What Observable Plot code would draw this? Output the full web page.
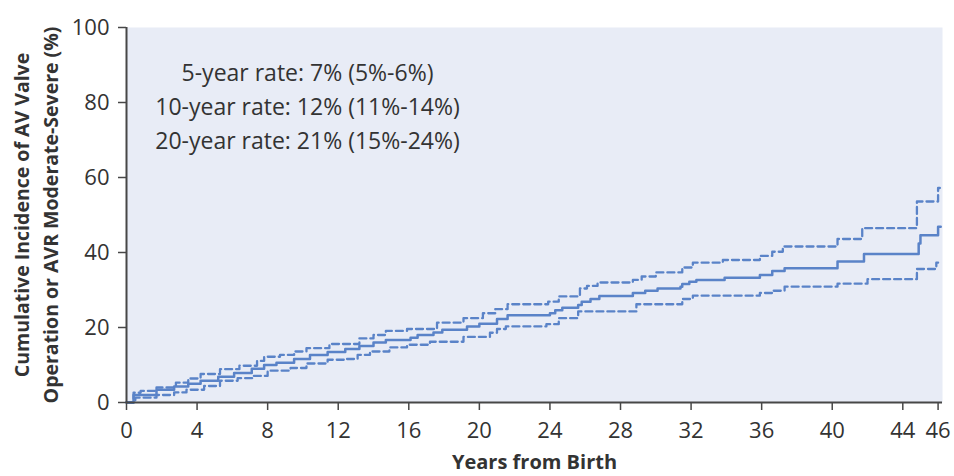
<!DOCTYPE html>
<html>
<head>
<meta charset="utf-8">
<script src="https://cdn.jsdelivr.net/npm/d3@7"></script>
<script src="https://cdn.jsdelivr.net/npm/@observablehq/plot@0.6"></script>
<style>
  html, body { margin: 0; padding: 0; background: #ffffff; }
  #chart { width: 954px; height: 476px; }
</style>
</head>
<body>
<div id="chart"></div>
<script>
// ---- Data ----
const estYears  = [0, 0.4, 1.7, 2.7, 3.5, 4.2, 5.2, 6.1, 7.1, 7.8, 8.5, 9.5, 10.4, 11.4, 12.4, 13.2, 14.0, 14.7, 16.1, 16.5, 17.4, 17.9, 19.3, 20.0, 21.0, 21.6, 24.0, 24.3, 24.7, 25.6, 25.8, 26.3, 26.8, 28.7, 29.4, 30.1, 31.4, 31.5, 31.9, 32.3, 33.9, 35.9, 36.6, 37.3, 40.3, 41.8, 44.9, 45.0, 46.0, 46.15];
const estValues = [0, 2.0, 3.4, 4.3, 5.0, 5.8, 6.9, 7.9, 9.0, 10.0, 10.6, 11.6, 12.7, 13.5, 14.3, 15.1, 16.0, 16.7, 17.3, 18.0, 18.7, 19.4, 20.3, 21.0, 22.3, 23.3, 23.8, 24.6, 25.3, 26.0, 26.9, 27.6, 28.4, 29.2, 29.8, 30.4, 30.9, 31.6, 32.2, 32.7, 33.3, 34.0, 35.1, 35.8, 37.6, 39.6, 42.4, 44.6, 46.9, 46.9];

const upperYears  = [0, 0.4, 0.8, 1.7, 2.8, 3.5, 4.2, 5.3, 6.4, 7.4, 7.8, 8.7, 9.5, 10.2, 11.5, 13.2, 14.0, 14.7, 15.9, 17.6, 19.1, 20.2, 20.9, 21.6, 23.9, 24.5, 25.7, 26.1, 26.7, 28.7, 29.2, 30.0, 31.5, 32.1, 33.8, 35.9, 36.6, 37.2, 40.3, 41.7, 44.8, 46.0, 46.1];
const upperValues = [0, 2.6, 3.1, 4.0, 5.3, 6.4, 7.6, 8.9, 9.8, 11.1, 12.2, 12.7, 13.6, 14.5, 15.6, 17.1, 18.0, 19.1, 19.6, 21.3, 22.5, 23.8, 24.9, 26.2, 26.9, 28.3, 30.4, 31.1, 32.0, 32.7, 33.6, 34.7, 36.0, 37.3, 38.0, 39.1, 40.2, 41.6, 43.6, 46.5, 53.6, 57.2, 57.2];

const lowerYears  = [0, 0.5, 1.7, 2.7, 3.4, 4.4, 5.3, 6.3, 7.2, 8.0, 9.3, 10.2, 11.4, 12.5, 13.1, 13.8, 14.9, 15.9, 17.2, 19.1, 20.6, 21.0, 21.5, 23.8, 24.5, 25.6, 28.9, 31.5, 32.1, 35.9, 36.6, 37.3, 40.3, 42.0, 44.8, 45.9, 46.0];
const lowerValues = [0, 1.3, 2.0, 2.7, 3.4, 4.4, 5.8, 6.5, 7.1, 8.5, 9.2, 10.4, 11.4, 11.6, 12.7, 13.6, 14.7, 15.4, 16.2, 17.5, 18.6, 19.6, 20.3, 20.9, 22.5, 24.3, 26.2, 27.6, 28.5, 29.2, 29.8, 30.9, 31.7, 32.9, 35.6, 37.3, 37.3];

const xTicks = [0, 4, 8, 12, 16, 20, 24, 28, 32, 36, 40, 44, 46];
const yTicks = [0, 20, 40, 60, 80, 100];

const rateLines = [
  "5-year rate: 7% (5%-6%)",
  "10-year rate: 12% (11%-14%)",
  "20-year rate: 21% (15%-24%)"
];
const xTitle = "Years from Birth";
const yTitleLines = [
  "Cumulative Incidence of AV Valve",
  "Operation or AVR Moderate-Severe (%)"
];

// ---- Tables built from arrays ----
const toRows = (xs, ys) => xs.map((t, i) => ({t, v: ys[i]}));
const est = toRows(estYears, estValues);
const upper = toRows(upperYears, upperValues);
const lower = toRows(lowerYears, lowerValues);

const blue = "#5a83c8";
const axisColor = "#474747";
const textColor = "#333333";
const font = "'Open Sans', 'Noto Sans', sans-serif";

const chart = Plot.plot({
  width: 954,
  height: 476,
  marginLeft: 126,
  marginRight: 12,
  marginTop: 27,
  marginBottom: 74,
  style: {fontFamily: font, color: textColor, background: "#ffffff", overflow: "visible"},
  x: {domain: [0, 46.25], ticks: xTicks, label: null},
  y: {domain: [0, 100], ticks: yTicks, label: null},
  marks: [
    Plot.frame({fill: "#e8ecf6", stroke: null}),
    Plot.line(upper, {x: "t", y: "v", curve: "step-after", stroke: blue, strokeWidth: 2.3, strokeDasharray: "7,4"}),
    Plot.line(lower, {x: "t", y: "v", curve: "step-after", stroke: blue, strokeWidth: 2.3, strokeDasharray: "7,4"}),
    Plot.line(est, {x: "t", y: "v", curve: "step-after", stroke: blue, strokeWidth: 2.5}),
    Plot.ruleY([0], {stroke: axisColor, strokeWidth: 2}),
    Plot.ruleX([0], {stroke: axisColor, strokeWidth: 2}),
    Plot.axisX({ticks: xTicks, tickSize: 8, tickPadding: 12, fontSize: 22, stroke: axisColor, strokeWidth: 1.5, fill: textColor, label: null}),
    Plot.axisY({ticks: yTicks, tickSize: 8, tickPadding: 9, fontSize: 22, stroke: axisColor, strokeWidth: 1.5, fill: textColor, label: null}),
    Plot.text([rateLines.join("\n")], {
      frameAnchor: "top-left", dx: 181, dy: 29, lineAnchor: "top", textAnchor: "middle",
      fontSize: 23, lineHeight: 1.48, fill: textColor
    }),
    Plot.text([xTitle], {
      frameAnchor: "bottom", dy: 60, lineAnchor: "middle", fontSize: 20, fontWeight: "bold", fill: textColor
    }),
    Plot.text([yTitleLines.join("\n")], {
      frameAnchor: "left", dx: -92, rotate: -90, lineAnchor: "middle", textAnchor: "middle",
      fontSize: 19.5, fontWeight: "bold", lineHeight: 1.45, fill: textColor
    })
  ]
});

document.getElementById("chart").appendChild(chart);
</script>
</body>
</html>
